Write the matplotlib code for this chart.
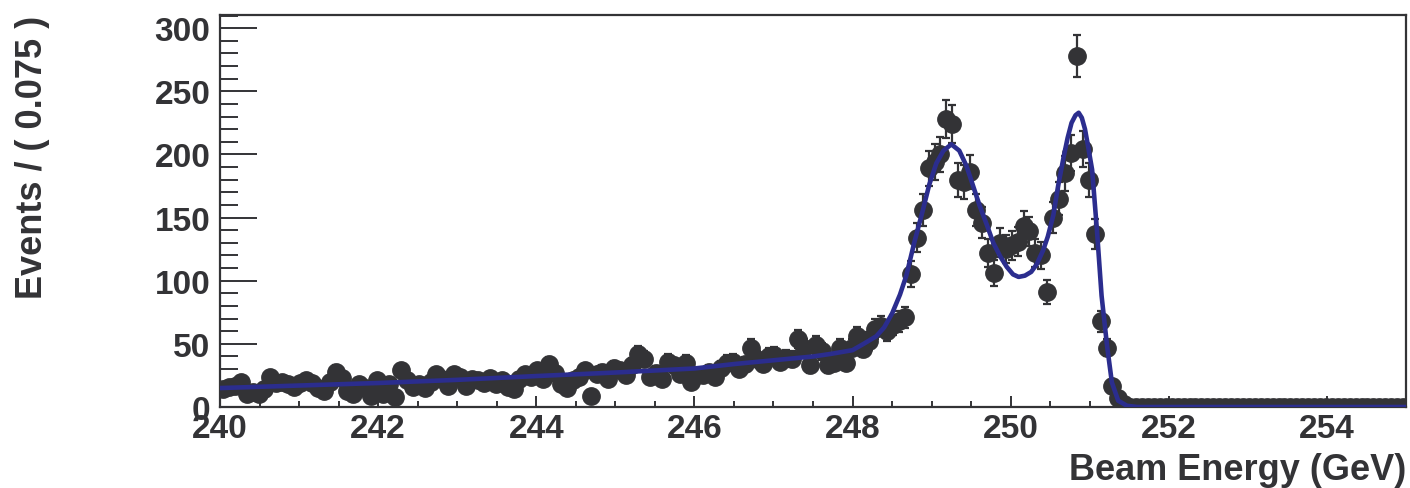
import numpy as np
import matplotlib
matplotlib.use('Agg')
import matplotlib.pyplot as plt
from matplotlib.ticker import MultipleLocator

plt.rcParams['font.family'] = ['Liberation Sans', 'DejaVu Sans']
plt.rcParams['font.weight'] = 'bold'

# histogram: 200 bins of 0.075 GeV from 240 to 255
bin_lo = 240.0
bin_width = 0.075
counts = [14, 16, 17, 20, 10, 12, 10, 14, 24, 19,
          20, 18, 16, 19, 21, 19, 15, 13, 20, 28,
          23, 13, 10, 18, 15, 9, 21, 10, 18, 8,
          29, 21, 16, 18, 15, 20, 26, 22, 17, 26,
          24, 17, 22, 21, 19, 23, 18, 21, 16, 14,
          22, 26, 24, 29, 22, 34, 27, 18, 15, 21,
          24, 29, 9, 26, 28, 22, 31, 29, 25, 33,
          42, 38, 24, 27, 22, 36, 33, 26, 35, 20,
          25, 25, 28, 24, 31, 35, 36, 30, 34, 47,
          38, 34, 40, 41, 36, 39, 38, 54, 47, 33,
          49, 44, 33, 35, 47, 35, 47, 56, 46, 52,
          62, 64, 60, 65, 68, 71, 105, 134, 156, 189,
          194, 200, 228, 224, 180, 178, 186, 156, 146, 122,
          106, 130, 125, 128, 131, 143, 139, 122, 120, 91,
          150, 165, 185, 201, 278, 204, 180, 137, 68, 47,
          17, 7, 2] + [0] * 47

# fitted curve
fit_energy = [240.0, 241.0, 242.0, 243.0, 244.0, 245.0, 246.0, 246.5, 247.0, 247.5,
              247.72, 248.0, 248.14, 248.3, 248.4, 248.5, 248.6, 248.68, 248.78, 248.89,
              248.97, 249.06, 249.15, 249.25, 249.35, 249.44, 249.52, 249.61, 249.7, 249.78,
              249.87, 249.95, 250.03, 250.1, 250.18, 250.26, 250.33, 250.41, 250.47, 250.54,
              250.6, 250.67, 250.72, 250.77, 250.82, 250.86, 250.9, 250.94, 250.98, 251.03,
              251.09, 251.15, 251.22, 251.28, 251.36, 251.47, 251.6, 255.0]
fit_events = [15, 17, 19, 21.5, 24.5, 27.3, 30.5, 34, 37, 40,
              42, 45, 50, 56, 63, 74, 89, 104, 130, 156,
              176, 193, 203, 208, 203, 191, 176, 159, 144, 130,
              119, 111, 105, 103, 104, 107, 113, 124, 135, 152,
              175, 198, 213, 225, 231, 233, 229, 220, 206, 188,
              141, 88, 48, 19.5, 5, 1, 0, 0]

centers = bin_lo + bin_width * (np.arange(len(counts)) + 0.5)
counts = np.array(counts, dtype=float)
errors = np.sqrt(counts)

dark = '#333336'
blue = '#2b2d8e'

fig = plt.figure(figsize=(14.1, 4.89), dpi=100)
ax = fig.add_axes([220 / 1410, 81 / 489, 1186 / 1410, 392 / 489])

ax.errorbar(centers, counts, yerr=errors, fmt='o', color=dark, ms=12.5,
            elinewidth=1.6, capsize=3.2, capthick=1.6, zorder=2)
ax.plot(fit_energy, fit_events, color=blue, lw=3.3, zorder=3,
        solid_joinstyle='round')

ax.set_xlim(240, 255)
ax.set_ylim(0, 310.4)

ax.xaxis.set_major_locator(MultipleLocator(2))
ax.xaxis.set_minor_locator(MultipleLocator(0.5))
ax.yaxis.set_major_locator(MultipleLocator(50))
ax.yaxis.set_minor_locator(MultipleLocator(10))

ax.tick_params(axis='x', which='major', direction='in', length=8, width=1.4,
               labelsize=24, pad=4, colors=dark)
ax.tick_params(axis='x', which='minor', direction='in', length=4, width=1.4, colors=dark)
ax.tick_params(axis='y', which='major', direction='in', length=26.5, width=1.4,
               labelsize=24, pad=7, colors=dark)
ax.tick_params(axis='y', which='minor', direction='in', length=13, width=1.4, colors=dark)
for sp in ax.spines.values():
    sp.set_linewidth(1.6)
    sp.set_color(dark)

ax.set_xlabel('Beam Energy (GeV)', fontsize=26, fontweight='bold', loc='right',
              color=dark, labelpad=6)
ax.set_ylabel('Events / ( 0.075 )', fontsize=26, fontweight='bold', loc='top', color=dark)
ax.yaxis.set_label_coords(-0.1433, 1.0)

fig.savefig('out.png', dpi=100)
